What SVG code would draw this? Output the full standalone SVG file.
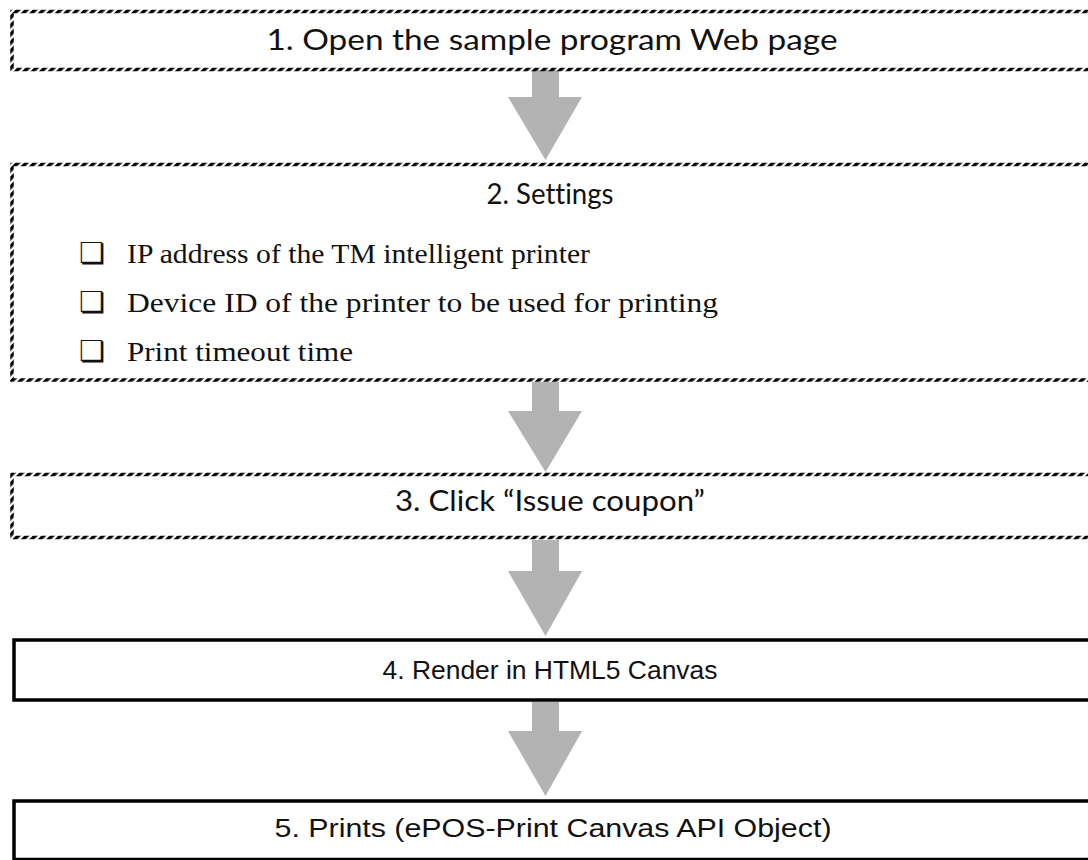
<svg xmlns="http://www.w3.org/2000/svg" width="1088" height="860" viewBox="0 0 1088 860">
<defs>
<pattern id="hatch" patternUnits="userSpaceOnUse" width="6" height="6" patternTransform="rotate(45)">
<rect x="0" y="0" width="3.6" height="6" fill="#000"/>
</pattern>
<style>
.dash{fill:#fff;stroke:url(#hatch);stroke-width:3.5}
.solid{fill:#fff;stroke:#000;stroke-width:3.5}
.arrow{fill:#b3b3b3}
.title{font-family:Lato,"Liberation Sans",sans-serif;font-size:28px;fill:#111;text-anchor:middle;font-variant-ligatures:none}
.title2{font-family:"Liberation Sans",Arial,sans-serif;font-size:26px;fill:#111;text-anchor:middle}
.item{font-family:"Liberation Serif","Times New Roman",serif;font-size:27px;fill:#111}
.box{font-family:"DejaVu Sans",sans-serif;font-size:29px;fill:#111}
</style>
</defs>
<g id="connectors">
<polygon class="arrow" points="532,70 559,70 559,97 582,97 545.5,160 508,97 532,97"/>
<polygon class="arrow" points="532,382 559,382 559,411 582,411 545.5,472 508,411 532,411"/>
<polygon class="arrow" points="532,540 559,540 559,571 582,571 545.5,636 508,571 532,571"/>
<polygon class="arrow" points="532,702 559,702 559,731 582,731 545.5,796 508,731 532,731"/>
</g>
<g id="node1">
<rect class="dash" x="12" y="11.5" width="1100" height="58"/>
<text class="title" x="552" y="50" textLength="571" lengthAdjust="spacingAndGlyphs">1. Open the sample program Web page</text>
</g>
<g id="node2">
<rect class="dash" x="12" y="164.5" width="1100" height="215.5"/>
<text class="title" x="550" y="204" textLength="127" lengthAdjust="spacingAndGlyphs">2. Settings</text>
<text class="box" x="79" y="263">❏</text>
<text class="item" x="127" y="263" textLength="463" lengthAdjust="spacingAndGlyphs">IP address of the TM intelligent printer</text>
<text class="box" x="79" y="312">❏</text>
<text class="item" x="127" y="312" textLength="591" lengthAdjust="spacingAndGlyphs">Device ID of the printer to be used for printing</text>
<text class="box" x="79" y="361">❏</text>
<text class="item" x="127" y="361" textLength="226" lengthAdjust="spacingAndGlyphs">Print timeout time</text>
</g>
<g id="node3">
<rect class="dash" x="12" y="474.5" width="1100" height="63"/>
<text class="title" x="550" y="511" textLength="310" lengthAdjust="spacingAndGlyphs">3. Click “Issue coupon”</text>
</g>
<g id="node4">
<rect class="solid" x="14" y="640" width="1100" height="60"/>
<text class="title2" x="550" y="679" textLength="335" lengthAdjust="spacingAndGlyphs">4. Render in HTML5 Canvas</text>
</g>
<g id="node5">
<rect class="solid" x="14" y="801" width="1100" height="58.5"/>
<text class="title2" x="553" y="837" textLength="557" lengthAdjust="spacingAndGlyphs">5. Prints (ePOS-Print Canvas API Object)</text>
</g>
</svg>
